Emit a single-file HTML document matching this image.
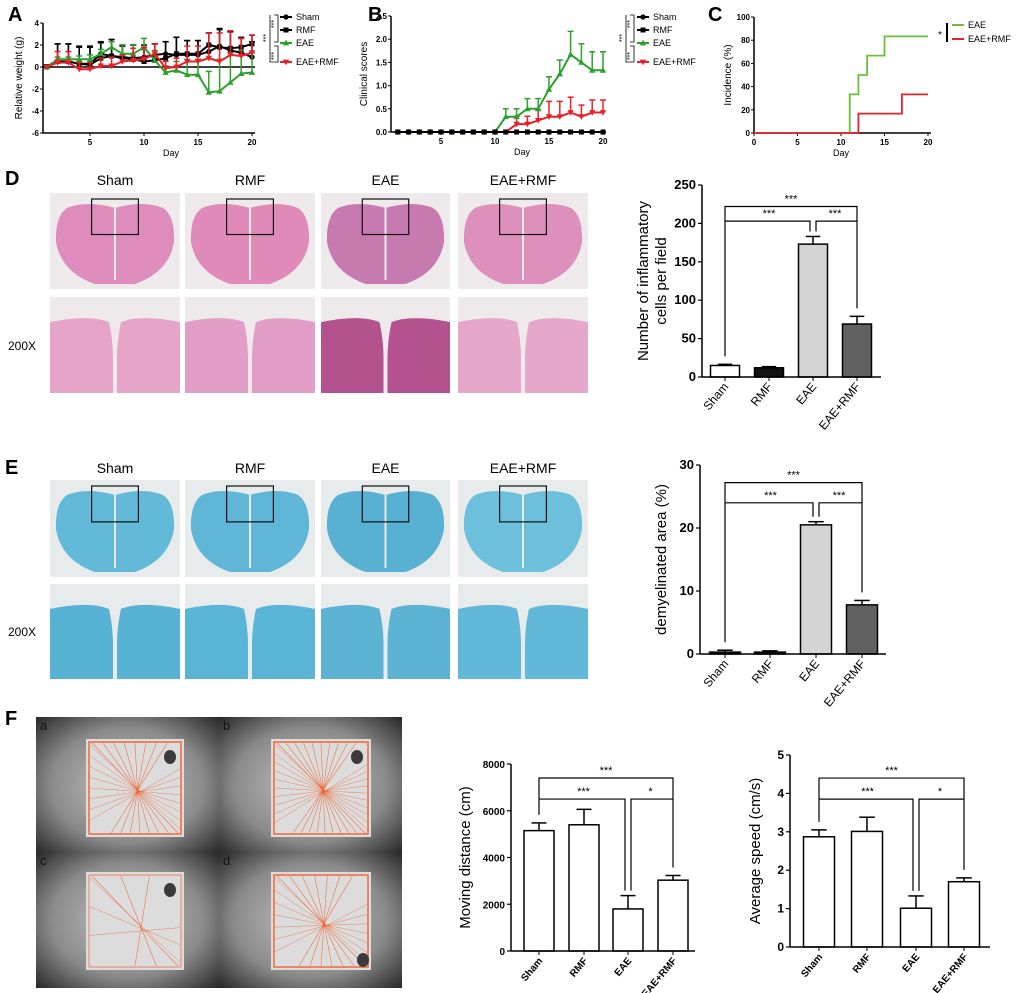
<!DOCTYPE html>
<html><head><meta charset="utf-8"><style>
html,body{margin:0;padding:0;background:#fff}
svg{display:block;font-family:"Liberation Sans",Arial,sans-serif}
</style></head><body>
<svg id="fig" width="1020" height="993" viewBox="0 0 1020 993" xmlns="http://www.w3.org/2000/svg">
<defs>
<radialGradient id="vig" cx="50%" cy="50%" r="70%"><stop offset="0" stop-color="#c4c4c4"/><stop offset="0.6" stop-color="#8a8a8a"/><stop offset="1" stop-color="#2a2a2a"/></radialGradient>
</defs>
<g id="root"></g>
</svg>
<script>
// ---- Panel A data (relative weight) ----
const days=[1,2,3,4,5,6,7,8,9,10,11,12,13,14,15,16,17,18,19,20];
const aSham=[0,0.5,0.5,0.3,0.3,1.2,1.0,0.9,0.8,0.9,1.1,1.2,1.1,1.1,1.1,1.4,1.9,1.5,1.3,0.9];
const aShamErr=[0.2,1.6,1.6,1.6,1.6,1.1,1.5,1.1,1.2,1.1,1.0,1.1,1.6,1.3,1.3,1.7,1.6,1.7,1.3,1.4];
const aRMF=[0,0.5,0.5,0.3,0.2,0.8,1.0,0.8,0.7,0.5,0.6,0.8,1.2,1.2,1.2,2.0,1.8,1.7,1.8,2.1];
const aRMFErr=[0.1,1.6,1.6,1.5,1.6,1.4,1.5,1.1,1.3,1.1,1.5,1.5,1.5,1.2,1.2,1.1,1.6,1.5,0.9,0.8];
const aEAE=[0,0.7,0.7,0.7,0.7,1.2,1.8,1.2,1.2,1.8,0.6,-0.5,-0.3,-0.7,-0.7,-2.3,-2.2,-1.4,-0.6,-0.5];
const aEAEErr=[0.1,0.2,0.2,0.3,0.4,0.4,0.5,0.8,0.8,0.8,0.9,0.6,0.8,1.4,1.4,1.9,2.9,2.7,2.1,1.8];
const aER=[0,0.4,0.4,-0.2,-0.2,0.1,0.1,0.5,0.6,0.7,1.2,-0.1,0,0.5,0.5,0.8,0.5,1.1,1.0,1.3];
const aERErr=[0.1,1.0,1.0,0.6,0.6,0.7,0.8,0.6,1.1,1.1,0.9,0.6,0.8,1.4,1.4,2.3,2.6,2.2,1.6,1.6];
// ---- Panel B data (clinical scores) ----
const bEAE=[0,0,0,0,0,0,0,0,0,0,0.33,0.33,0.5,0.5,0.92,1.25,1.67,1.5,1.33,1.33];
const bEAEErr=[0,0,0,0,0,0,0,0,0,0,0.17,0.17,0.22,0.22,0.27,0.3,0.5,0.4,0.4,0.4];
const bER=[0,0,0,0,0,0,0,0,0,0,0,0.17,0.17,0.25,0.33,0.33,0.42,0.33,0.42,0.42];
const bERErr=[0,0,0,0,0,0,0,0,0,0,0,0.17,0.17,0.22,0.33,0.33,0.33,0.25,0.27,0.27];
const bZero=[0,0,0,0,0,0,0,0,0,0,0,0,0,0,0,0,0,0,0,0];
// ---- Panel C data (incidence step) ----
const cEAEDays=[0,11,12,13,15,20];
const cEAEVals=[0,33.3,50,66.7,83.3,83.3];
const cERDays=[0,12,17,20];
const cERVals=[0,16.7,33.3,33.3];
// ---- Bar charts ----
const groups=["Sham","RMF","EAE","EAE+RMF"];
const dVals=[15,12,173,69];
const dErr=[1.5,1.5,10,10];
const eVals=[0.3,0.3,20.5,7.8];
const eErr=[0.3,0.2,0.5,0.7];
const fDist=[5150,5400,1800,3030];
const fDistErr=[330,660,570,200];
const fSpeed=[2.87,3.01,1.01,1.7];
const fSpeedErr=[0.18,0.37,0.32,0.1];

const NS="http://www.w3.org/2000/svg";
const root=document.getElementById('root');
function el(tag,attrs,parent,text){const e=document.createElementNS(NS,tag);for(const k in attrs)e.setAttribute(k,attrs[k]);if(text!==undefined)e.textContent=text;(parent||root).appendChild(e);return e;}
function lin(d0,d1,r0,r1){return v=>r0+(v-d0)*(r1-r0)/(d1-d0);}

[["A",8,21],["B",368,21],["C",708,21],["D",5,185],["E",5,474],["F",5,725]].forEach(p=>{
  const t=el('text',{x:p[1],y:p[2],'font-size':20,'font-weight':'bold'},root,p[0]);
  
  
});

function lineChart(opt){
  const g=el('g',{});
  
  
  const x=lin(opt.xd[0],opt.xd[1],opt.xr[0],opt.xr[1]);
  const y=lin(opt.yd[0],opt.yd[1],opt.yr[0],opt.yr[1]);
  el('line',{x1:opt.ax,y1:opt.yr[1],x2:opt.ax,y2:opt.yr[0],stroke:'#000','stroke-width':1.5},g);
  el('line',{x1:opt.ax,y1:opt.yr[0],x2:opt.xr[1]+3,y2:opt.yr[0],stroke:'#000','stroke-width':1.5},g);
  opt.yticks.forEach(v=>{el('line',{x1:opt.ax-3,y1:y(v),x2:opt.ax,y2:y(v),stroke:'#000'},g);
    el('text',{x:opt.ax-4,y:y(v)+3,'font-size':8,'font-weight':'bold','text-anchor':'end'},g,opt.yfmt?opt.yfmt(v):v);});
  opt.xticks.forEach(v=>{el('line',{x1:x(v),y1:opt.yr[0],x2:x(v),y2:opt.yr[0]+3,stroke:'#000'},g);
    el('text',{x:x(v),y:opt.yr[0]+12,'font-size':8,'font-weight':'bold','text-anchor':'middle'},g,v);});
  const xl=el('text',{x:(opt.xr[0]+opt.xr[1])/2,y:opt.yr[0]+23,'font-size':9,'text-anchor':'middle'},g,'Day');
  
  const cy=(opt.yr[0]+opt.yr[1])/2;
  const yl=el('text',{x:opt.ylx,y:cy,'font-size':opt.ylfs||11,'text-anchor':'middle',transform:`rotate(-90 ${opt.ylx} ${cy})`},g,opt.ytitle);
  
  if(opt.zeroLine!==undefined) el('line',{x1:opt.ax,y1:y(0),x2:opt.xr[1]+3,y2:y(0),stroke:'#000','stroke-width':1.5},g);
  return {g,x,y};
}
function marker(g,type,cx,cy,col){
  if(type==='circle') el('circle',{cx,cy,r:2.6,fill:col},g);
  else if(type==='square') el('rect',{x:cx-2.5,y:cy-2.5,width:5,height:5,fill:col},g);
  else if(type==='up') el('polygon',{points:`${cx},${cy-3.2} ${cx-3.2},${cy+2.4} ${cx+3.2},${cy+2.4}`,fill:col},g);
  else el('polygon',{points:`${cx},${cy+3.2} ${cx-3.2},${cy-2.4} ${cx+3.2},${cy-2.4}`,fill:col},g);
}
function series(ch,vals,errs,col,type,name){
  const g=el('g',{},ch.g);
  
  
  vals.forEach((v,i)=>{const e=errs[i];if(!e)return;const d=days[i];
    el('line',{x1:ch.x(d),y1:ch.y(v),x2:ch.x(d),y2:ch.y(v+e),stroke:col,'stroke-width':1.5},g);
    el('line',{x1:ch.x(d)-3,y1:ch.y(v+e),x2:ch.x(d)+3,y2:ch.y(v+e),stroke:col,'stroke-width':1.5},g);});
  el('polyline',{points:vals.map((v,i)=>ch.x(days[i])+','+ch.y(v)).join(' '),fill:'none',stroke:col,'stroke-width':2},g);
  vals.forEach((v,i)=>marker(g,type,ch.x(days[i]),ch.y(v),col));
}
function legend(x,y,items,gap){
  const g=el('g',{});
  
  
  items.forEach((it,i)=>{const yy=y+i*gap[i];
    const li=el('g',{},g);
    
    
    el('line',{x1:x,y1:yy,x2:x+12,y2:yy,stroke:it[1],'stroke-width':2},li);
    if(it[2])marker(li,it[2],x+6,yy,it[1]);
    el('text',{x:x+16,y:yy+3,'font-size':9},li,it[0]);});
  return g;
}

// ---- Panel A ----
const chA=lineChart({name:'chart-relative-weight',xd:[5,20],xr:[90,252],yd:[-6,4],yr:[133,23],ax:43,yticks:[4,2,0,-2,-4,-6],xticks:[5,10,15,20],ytitle:'Relative weight (g)',ylx:22,ylfs:10,zeroLine:0});
series(chA,aSham,aShamErr,'#000','circle','series-sham');
series(chA,aRMF,aRMFErr,'#000','square','series-rmf');
series(chA,aEAE,aEAEErr,'#2ca02c','up','series-eae');
series(chA,aER,aERErr,'#e8202a','down','series-eae-rmf');
legend(280,17,[["Sham","#000","circle"],["RMF","#000","square"],["EAE","#2ca02c","up"],["EAE+RMF","#e8202a","down"]],[0,13,13,15]);
el('path',{d:'M274,15 H278 V42 H274 M274,46 H278 V62 H274 M270,15 V62 H274',fill:'none',stroke:'#000','stroke-width':0.8});
el('text',{x:0,y:0,'font-size':7,transform:'translate(276,24) rotate(-90)','text-anchor':'middle'},root,'***');
el('text',{x:0,y:0,'font-size':7,transform:'translate(276,56) rotate(-90)','text-anchor':'middle'},root,'***');
el('text',{x:0,y:0,'font-size':7,transform:'translate(268,38) rotate(-90)','text-anchor':'middle'},root,'***');

// ---- Panel B ----
const chB=lineChart({name:'chart-clinical-scores',xd:[5,20],xr:[441,603],yd:[0,2.5],yr:[132,16],ax:391,yticks:[0,0.5,1,1.5,2,2.5],yfmt:v=>v.toFixed(1),xticks:[5,10,15,20],ytitle:'Clinical scores',ylx:367,ylfs:10});
series(chB,bER,bERErr,'#e8202a','down','series-eae-rmf');
series(chB,bEAE,bEAEErr,'#2ca02c','up','series-eae');
series(chB,bZero,bZero,'#000','circle','series-sham');
series(chB,bZero,bZero,'#000','square','series-rmf');
legend(637,17,[["Sham","#000","circle"],["RMF","#000","square"],["EAE","#2ca02c","up"],["EAE+RMF","#e8202a","down"]],[0,13,13,15]);
el('path',{d:'M630,15 H634 V42 H630 M630,46 H634 V62 H630 M626,15 V62 H630',fill:'none',stroke:'#000','stroke-width':0.8});
el('text',{x:0,y:0,'font-size':7,transform:'translate(632,24) rotate(-90)','text-anchor':'middle'},root,'***');
el('text',{x:0,y:0,'font-size':7,transform:'translate(632,56) rotate(-90)','text-anchor':'middle'},root,'***');
el('text',{x:0,y:0,'font-size':7,transform:'translate(624,38) rotate(-90)','text-anchor':'middle'},root,'***');

// ---- Panel C ----
const chC=lineChart({name:'chart-incidence',xd:[0,20],xr:[754,928],yd:[0,100],yr:[133,17],ax:754,yticks:[0,20,40,60,80,100],xticks:[0,5,10,15,20],ytitle:'Incidence (%)',ylx:731,ylfs:10});
function step(ch,ds,vs,col,name){let d=`M${ch.x(ds[0])},${ch.y(vs[0])}`;for(let i=1;i<ds.length;i++){d+=` H${ch.x(ds[i])} V${ch.y(vs[i])}`;}
  const p=el('path',{d,fill:'none',stroke:col,'stroke-width':1.8},ch.g);}
step(chC,cEAEDays,cEAEVals,'#6cbf3a','series-eae');
step(chC,cERDays,cERVals,'#e8202a','series-eae-rmf');
legend(952,25,[["EAE","#6cbf3a"],["EAE+RMF","#e8202a"]],[0,14]);
el('line',{x1:947,y1:23,x2:947,y2:42,stroke:'#000','stroke-width':2});
el('text',{x:938,y:38,'font-size':10},root,'*');

// ---- Histology panels ----
function histo(prefix,rows,colors){
  const xs=[[50,180],[185,315],[321,450],[458,588]];
  xs.forEach((c,i)=>{
    const t=el('text',{x:(c[0]+c[1])/2,y:prefix==='he'?185:473,'font-size':14,'text-anchor':'middle'},root,groups[i]);
    
    rows.forEach((r,j)=>{
      const g=el('g',{});
      const w=c[1]-c[0],h=r[1]-r[0];
      el('rect',{x:c[0],y:r[0],width:w,height:h,fill:colors.bg},g);
      if(j===0){
        const L=c[0]+5,R=c[1]-5,T=r[0]+9,B=r[1]-5,M=c[0]+w/2;
        el('path',{d:`M${M},${T+6} Q${M-28},${T-2} ${L+12},${T+6} Q${L},${T+14} ${L+1},${T+40} Q${L+6},${B-12} ${M-20},${B} L${M+20},${B} Q${R-6},${B-12} ${R-1},${T+40} Q${R},${T+14} ${R-12},${T+6} Q${M+28},${T-2} ${M},${T+6}Z`,fill:colors.tissue[i]},g);
        el('line',{x1:M,y1:T+6,x2:M,y2:B-4,stroke:colors.bg,'stroke-width':2},g);
        el('rect',{x:c[0]+w*0.32,y:r[0]+6,width:w*0.36,height:h*0.37,fill:'none',stroke:'#111','stroke-width':1.2},g);
      } else {
        const top=r[0]+h*0.22, M=c[0]+w/2;
        el('path',{d:`M${c[0]},${top+4} Q${c[0]+w*0.3},${top-4} ${M-6},${top+4} Q${M-2},${top+22} ${M-2},${top+40} L${M-2},${r[1]} L${c[0]},${r[1]}Z`,fill:colors.tissue[4+i]},g);
        el('path',{d:`M${c[1]},${top+4} Q${c[1]-w*0.3},${top-4} ${M+6},${top+4} Q${M+2},${top+22} ${M+2},${top+40} L${M+2},${r[1]} L${c[1]},${r[1]}Z`,fill:colors.tissue[4+i]},g);
      }
    });
  });
  const t=el('text',{x:8,y:prefix==='he'?350:636,'font-size':12},root,'200X');
  
}
histo('he',[[193,289],[297,393]],{bg:'#eeeaec',tissue:['#de8cbc','#e08aba','#c67ab0','#de90bd','#e6a4c8','#e29ec6','#b4528f','#e6a8ca']});
histo('lfb',[[480,577],[584,679]],{bg:'#e8ebec',tissue:['#62bad8','#5fb6d6','#58b0d2','#6cc0dc','#58b2d4','#5ab4d6','#5cb2d2','#62b8d8']});

// ---- Bar charts ----
function barChart(opt){
  const g=el('g',{});
  const y=lin(0,opt.ymax,opt.y0,opt.ytop);
  const bw=opt.bw;
  opt.vals.forEach((v,i)=>{const cx=opt.xs[i];
    const b=el('g',{},g);
    
    
    const e=opt.err[i];
    el('line',{x1:cx,y1:y(v),x2:cx,y2:y(v+e),stroke:'#000','stroke-width':1.5},b);
    el('line',{x1:cx-bw*0.25,y1:y(v+e),x2:cx+bw*0.25,y2:y(v+e),stroke:'#000','stroke-width':1.5},b);
    el('rect',{x:cx-bw/2,y:y(v),width:bw,height:opt.y0-y(v),fill:opt.fills[i],stroke:'#000','stroke-width':1.5},b);
  });
  el('line',{x1:opt.ax,y1:opt.ytop,x2:opt.ax,y2:opt.y0,stroke:'#000','stroke-width':1.5},g);
  el('line',{x1:opt.ax,y1:opt.y0,x2:opt.xend,y2:opt.y0,stroke:'#000','stroke-width':1.5},g);
  opt.ticks.forEach(v=>{el('line',{x1:opt.ax-4,y1:y(v),x2:opt.ax,y2:y(v),stroke:'#000','stroke-width':1.2},g);
    el('text',{x:opt.ax-6,y:y(v)+4,'font-size':opt.tfs,'font-weight':'bold','text-anchor':'end'},g,v);});
  groups.forEach((n,i)=>{const cx=opt.xs[i];
    el('line',{x1:cx,y1:opt.y0,x2:cx,y2:opt.y0+4,stroke:'#000'},g);
    el('text',{x:0,y:0,'font-size':opt.lfs,'font-weight':opt.lbold?'bold':'normal','text-anchor':'end',transform:`translate(${cx+4},${opt.y0+10}) rotate(-50)`},g,n);});
  const cy=(opt.y0+opt.ytop)/2;
  opt.ytitle.forEach((t,k)=>{const xx=opt.ylx+k*opt.ylgap;
    const yl=el('text',{x:xx,y:cy,'font-size':opt.yfs,'text-anchor':'middle',transform:`rotate(-90 ${xx} ${cy})`},g,t);
    });
  const yt=y(opt.bTop),ym=y(opt.bMid);
  const x0=opt.xs[0],x2=opt.xs[2],x3=opt.xs[3];
  el('path',{d:`M${x0},${y(opt.vals[0]+opt.err[0])-8} V${yt} H${x3} V${y(opt.vals[3]+opt.err[3])-8}`,fill:'none',stroke:'#000','stroke-width':1.2},g);
  el('path',{d:`M${x0},${ym} H${x2-3} V${y(opt.vals[2]+opt.err[2])-5}`,fill:'none',stroke:'#000','stroke-width':1.2},g);
  el('path',{d:`M${x2+3},${y(opt.vals[2]+opt.err[2])-5} V${ym} H${x3}`,fill:'none',stroke:'#000','stroke-width':1.2},g);
  el('text',{x:(x0+x3)/2,y:yt-4,'font-size':11,'text-anchor':'middle'},g,'***');
  el('text',{x:(x0+x2)/2,y:ym-4,'font-size':11,'text-anchor':'middle'},g,'***');
  el('text',{x:(x2+x3)/2,y:ym-4,'font-size':11,'text-anchor':'middle'},g,opt.s2);
}
barChart({name:'chart-inflammatory-cells',vals:dVals,err:dErr,ymax:250,y0:377,ytop:185,ax:702,xend:881,xs:[725,769,813,857],bw:29,fills:['#fff','#111','#d4d4d4','#606060'],ticks:[0,50,100,150,200,250],tfs:13,lfs:12,ytitle:['Number of inflammatory','cells per field'],ylx:648,ylgap:18,yfs:15,bTop:222,bMid:203,s2:'***'});
barChart({name:'chart-demyelinated-area',vals:eVals,err:eErr,ymax:30,y0:654,ytop:465,ax:700,xend:886,xs:[725,770,816,862],bw:31,fills:['#111','#111','#d4d4d4','#606060'],ticks:[0,10,20,30],tfs:13,lfs:12,ytitle:['demyelinated area (%)'],ylx:666,ylgap:0,yfs:15,bTop:27.2,bMid:24,s2:'***'});
barChart({name:'chart-moving-distance',vals:fDist,err:fDistErr,ymax:8000,y0:951,ytop:764,ax:511,xend:695,xs:[539,584,628,673],bw:30,fills:['#fff','#fff','#fff','#fff'],ticks:[0,2000,4000,6000,8000],tfs:10,lfs:10,lbold:true,ytitle:['Moving distance (cm)'],ylx:470,ylgap:0,yfs:15,bTop:7400,bMid:6500,s2:'*'});
barChart({name:'chart-average-speed',vals:fSpeed,err:fSpeedErr,ymax:5,y0:947,ytop:755,ax:790,xend:990,xs:[819,867,916,964],bw:31,fills:['#fff','#fff','#fff','#fff'],ticks:[0,1,2,3,4,5],tfs:12,lfs:10,lbold:true,ytitle:['Average speed (cm/s)'],ylx:760,ylgap:0,yfs:15,bTop:4.4,bMid:3.85,s2:'*'});

// ---- Open field photos ----
[["a",36,717,8],["b",219,717,10],["c",36,852,3],["d",219,852,7]].forEach((p,i)=>{
  const g=el('g',{});
  el('rect',{x:p[1],y:p[2],width:183,height:136,fill:'url(#vig)'},g);
  const ax=p[1]+(i%2?52:50), ay=p[2]+(i<2?22:20), aw=(i%2?100:98), ah=98;
  el('rect',{x:ax,y:ay,width:aw,height:ah,fill:'#dcdcdc'},g);
  el('rect',{x:ax+3,y:ay+3,width:aw-6,height:ah-6,fill:'none',stroke:'#f05a28','stroke-width':i==2?0.8:1.6,'stroke-opacity':0.85},g);
  for(let k=0;k<p[3];k++){
    el('line',{x1:ax+6+k*(aw-12)/p[3],y1:ay+4,x2:ax+aw-6-k*(aw-12)/(p[3]+1),y2:ay+ah-4,stroke:'#f05a28','stroke-width':0.6,'stroke-opacity':0.8},g);
    el('line',{x1:ax+4,y1:ay+6+k*(ah-12)/p[3],x2:ax+aw-4,y2:ay+ah-8-k*(ah-12)/(p[3]+2),stroke:'#f05a28','stroke-width':0.5,'stroke-opacity':0.7},g);
  }
  el('ellipse',{cx:ax+(i==3?aw-8:aw-14),cy:ay+(i==3?ah-10:18),rx:6,ry:7,fill:'#3a3a3a'},g);
  el('text',{x:p[1]+4,y:p[2]+13,'font-size':13,fill:'#111'},g,p[0]);
});
</script>
</body></html>
